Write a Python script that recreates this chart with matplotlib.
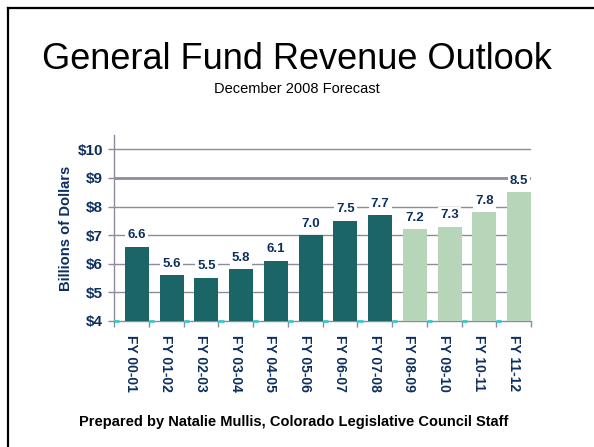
"""
General Fund Revenue Outlook, December 2008 forecast, as a bar chart.
"""

import matplotlib.pyplot as plt
from matplotlib.lines import Line2D

YEARS = ["FY 00-01", "FY 01-02", "FY 02-03", "FY 03-04", "FY 04-05", "FY 05-06",
         "FY 06-07", "FY 07-08", "FY 08-09", "FY 09-10", "FY 10-11", "FY 11-12"]
REVENUE = [6.6, 5.6, 5.5, 5.8, 6.1, 7.0, 7.5, 7.7, 7.2, 7.3, 7.8, 8.5]
IS_FORECAST = [False] * 8 + [True] * 4
Y_TICKS = [4, 5, 6, 7, 8, 9, 10]
Y_LABELS = ["$4", "$5", "$6", "$7", "$8", "$9", "$10"]

NAVY = "#0d2f5f"
ACTUAL = "#1b6567"
FORECAST = "#b7d5b9"
GRID = "#8c8c9c"
FONT = "Liberation Sans"


def plot():
    fig = plt.figure(figsize=(5.94, 4.47), dpi=100)
    ax = fig.add_axes([0.192, 0.282, 0.702, 0.416])

    x = list(range(len(YEARS)))
    colors = [FORECAST if f else ACTUAL for f in IS_FORECAST]
    base = Y_TICKS[0]
    heights = [v - base for v in REVENUE]
    ax.bar([i + 0.155 for i in x], heights, bottom=base, width=0.69,
           color=colors, zorder=3)

    # small cyan stubs of the empty second series
    for i in x:
        ax.plot([i - 0.5, i - 0.35], [base, base], color="#33cccc", lw=2,
                solid_capstyle="butt", zorder=4, clip_on=False)

    for i, v in enumerate(REVENUE):
        ax.annotate(f"{v:.1f}", (i + 0.155, v), xytext=(0, 4),
                    textcoords="offset points", ha="center", va="bottom",
                    fontsize=9.5, fontweight="bold", color=NAVY, family=FONT,
                    zorder=5,
                    bbox=dict(facecolor="white", edgecolor="none", pad=1.5))

    for t in Y_TICKS[1:]:
        ax.axhline(t, color=GRID, lw=2 if t == 9 else 1, zorder=1)

    ax.set_xlim(-0.5, len(YEARS) - 0.5)
    ax.set_ylim(4, 10.5)
    ax.set_yticks(Y_TICKS)
    ax.set_yticklabels(Y_LABELS, fontsize=11, fontweight="bold", color=NAVY,
                       family=FONT)
    ax.set_xticks(x)
    ax.set_xticklabels(YEARS, rotation=270, fontsize=10, fontweight="bold",
                       color=NAVY, family=FONT)
    ax.set_xticks([i - 0.5 for i in x] + [len(YEARS) - 0.5], minor=True)
    ax.tick_params(axis="x", which="major", length=0, pad=10)
    ax.tick_params(axis="x", which="minor", length=4, color=GRID, width=1)
    ax.tick_params(axis="y", length=4, color=GRID, width=1, pad=4)

    for side in ["top", "right"]:
        ax.spines[side].set_visible(False)
    for side in ["left", "bottom"]:
        ax.spines[side].set_color(GRID)
        ax.spines[side].set_linewidth(1)

    ax.set_ylabel("Billions of Dollars", fontsize=10.6, fontweight="bold",
                  color=NAVY, family=FONT, labelpad=3)

    fig.text(0.5, 0.867, "General Fund Revenue Outlook", ha="center",
             va="center", fontsize=26, family=FONT, color="black")
    fig.text(0.5, 0.80, "December 2008 Forecast", ha="center", va="center",
             fontsize=10.5, family=FONT, color="black")
    fig.text(0.494, 0.055,
             "Prepared by Natalie Mullis, Colorado Legislative Council Staff",
             ha="center", va="center", fontsize=10.5, fontweight="bold",
             family=FONT, color="black")

    fig.add_artist(Line2D([8 / 594, 8 / 594], [0, 1 - 8 / 447], color="black",
                          lw=1.6, transform=fig.transFigure))
    fig.add_artist(Line2D([8 / 594, 1], [1 - 8 / 447, 1 - 8 / 447],
                          color="black", lw=1.6, transform=fig.transFigure))

    fig.savefig("out.png", dpi=100)


if __name__ == "__main__":
    plot()
